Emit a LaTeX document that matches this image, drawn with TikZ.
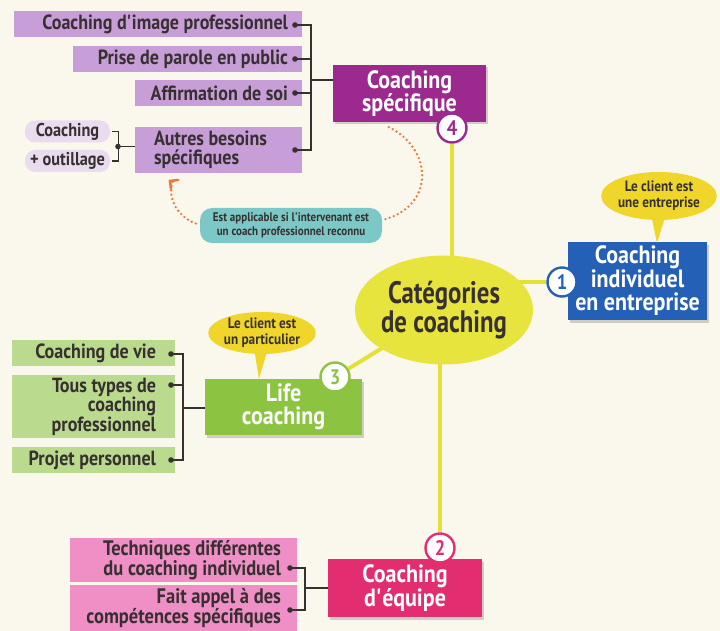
\documentclass[tikz,border=0pt]{standalone}
\usepackage{fontspec}
\setmainfont{PT Sans}[FakeStretch=0.88]
\newfontfamily\narrowfont{PT Sans}[FakeStretch=0.8]
\usetikzlibrary{shapes.geometric,shadows,arrows.meta,backgrounds,calc}

\definecolor{paper}{RGB}{250,247,236}
\definecolor{ink}{RGB}{55,48,48}
\definecolor{lpurple}{RGB}{200,158,216}
\definecolor{dpurple}{RGB}{156,42,142}
\definecolor{lavender}{RGB}{232,220,238}
\definecolor{dblue}{RGB}{36,96,182}
\definecolor{ell}{RGB}{232,228,62}
\definecolor{yline}{RGB}{228,224,56}
\definecolor{bub}{RGB}{240,214,42}
\definecolor{dgreen}{RGB}{140,196,66}
\definecolor{lgreen}{RGB}{186,218,142}
\definecolor{dpink}{RGB}{226,46,112}
\definecolor{lpink}{RGB}{240,142,198}
\definecolor{teal}{RGB}{124,200,198}
\definecolor{dotorange}{RGB}{236,122,62}

\pgfdeclarelayer{paperlayer}
\pgfsetlayers{paperlayer,background,main}

\newcommand{\fs}[2]{\fontsize{#1}{#2}\selectfont}
\newcommand{\apo}{\textquotesingle}

\tikzset{
  leaf/.style args={#1/#2/#3}{fill=#1, minimum width=#2, minimum height=#3,
    inner sep=0},
  lt/.style={anchor=east, align=right, inner sep=0, text=ink,
    font=\bfseries\fs{20.5}{19.5}},
  pill/.style={fill=lavender, rounded corners=10, inner sep=0,
    minimum width=85, minimum height=22, text=ink, font=\bfseries\fs{18.5}{18}},
  mainbox/.style={fill=#1, inner sep=0, align=center, text=white,
    font=\bfseries\fs{25}{23.5},
    drop shadow={opacity=0.35, shadow xshift=2pt, shadow yshift=-2.5pt}},
  num/.style={circle, draw=#1, fill=white, line width=2.4, text=#1,
    minimum size=29, inner sep=0, font=\bfseries\fs{21}{21}},
  bubble/.style={ellipse, fill=bub, inner sep=0, align=center, text=ink,
    font=\bfseries\fs{15}{16}},
  brk/.style={draw=ink, line width=1.4},
  ydot/.style={fill=ink},
  yconn/.style={draw=yline, line width=4},
  orangedots/.style={draw=dotorange, line width=2.6, line cap=round,
    dash pattern=on 0pt off 4.4pt},
}

\begin{document}
\begin{tikzpicture}[x=1pt,y=-1pt]
\useasboundingbox (0,0) rectangle (720,631);
\begin{pgfonlayer}{paperlayer}
  \fill[paper] (0,0) rectangle (720,631);
\end{pgfonlayer}

% ---- centre ----
\node[ellipse, fill=ell, minimum width=163, minimum height=109, inner sep=0,
      align=center, text=ink, font=\narrowfont\bfseries\fs{31}{29}] (cat) at (444,310)
      {Catégories\\de coaching};

% ---- 4: coaching spécifique ----
\node[mainbox=dpurple, minimum width=153, minimum height=57] (spec) at (409.5,93.5)
      {Coaching\\spécifique};
\node[num=dpurple] (c4) at (452,128) {4};

\node[leaf=lpurple/288/26] (p1) at (158,24) {};
\node[leaf=lpurple/229/26] (p2) at (187.5,59) {};
\node[leaf=lpurple/167/26] (p3) at (218.5,93) {};
\node[leaf=lpurple/167/46] (p4) at (218.5,150) {};
\node[lt] (p1t) at ($(p1.east)+(-14,0)$) {Coaching d\apo image professionnel};
\node[lt] (p2t) at ($(p2.east)+(-14,0)$) {Prise de parole en public};
\node[lt] (p3t) at ($(p3.east)+(-14,0)$) {Affirmation de soi};
\node[lt, anchor=west, align=left] (p4t) at ($(p4.west)+(19,0)$)
      {Autres besoins\\spécifiques};
\node[pill] (q1) at (67.5,131.5) {Coaching};
\node[pill] (q2) at (67.5,161) {+ outillage};

\coordinate (pd1) at (295,25);
\coordinate (pd2) at (295,59);
\coordinate (pd3) at (295,93);
\coordinate (pd4) at (295,150);
\coordinate (pj) at (311,80);
\draw[brk] (pd1) -- ++(16,0) |- (pd4);
\draw[brk] (pd2) -- ++(16,0);
\draw[brk] (pd3) -- ++(16,0);
\draw[brk] (pj) -- (pj -| spec.west);
\foreach \d in {pd1,pd2,pd3,pd4} \fill[ydot] (\d) circle (2.8);

\coordinate (qj) at (118,146.5);
\draw[brk] ($(q1.east)+(2,0)$) -- ++(6,0) |- ($(q2.east)+(2,0)$);
\draw[brk] (qj) -- (qj -| p4.west);
\fill[ydot] (qj) circle (2.8);

% ---- note with dotted loop ----
\node[fill=teal, rounded corners=12, minimum width=182, minimum height=35,
      inner sep=0, align=center, text=ink, font=\bfseries\fs{12.5}{14}]
      (note) at (291,225.5)
      {Est applicable si l\apo intervenant est\\un coach professionnel reconnu};
\coordinate (arcstart) at ($(spec.south west)+(56,5)$);
\coordinate (arcend) at (173,181);
\draw[orangedots] (arcstart) .. controls (432,148) and (436,205) .. ($(note.east)+(2,-6)$);
\draw[orangedots] ($(note.west)+(-4,-2)$) .. controls (180,218) and (166,200) .. (arcend);
\draw[draw=dotorange, line width=2.6, line cap=round]
      ($(arcend)+(-2,8)$) -- ++(-1,-8) -- ++(8,-1);

% ---- 1: coaching individuel en entreprise ----
\node[mainbox=dblue, minimum width=139, minimum height=78] (ind) at (637.5,281)
      {Coaching\\individuel\\en entreprise};
\node[num=dblue] (c1) at (562,282) {1};
\node[bubble, minimum width=97, minimum height=48] (b1) at (659,196)
      {Le client est\\une entreprise};
\coordinate (t1) at (657,243);
\fill[bub] ($(b1.south)+(-8,-6)$) -- (t1) -- ($(b1.south)+(7,-6)$) -- cycle;

% ---- 3: life coaching ----
\node[mainbox=dgreen, minimum width=157, minimum height=56] (life) at (283.5,407)
      {Life\\coaching};
\node[num=dgreen] (c3) at (335,377) {3};
\node[bubble, minimum width=100, minimum height=42] (b3) at (262,333)
      {Le client est\\un particulier};
\coordinate (t3) at (259,379);
\fill[bub] ($(b3.south)+(-8,-6)$) -- (t3) -- ($(b3.south)+(6,-6)$) -- cycle;

\node[leaf=lgreen/163/26] (g1) at (93.5,353) {};
\node[leaf=lgreen/163/63] (g2) at (93.5,406.5) {};
\node[leaf=lgreen/163/26] (g3) at (93.5,460) {};
\node[lt] (g1t) at ($(g1.east)+(-19,0)$) {Coaching de vie};
\node[lt] (g2t) at ($(g2.east)+(-19,0)$) {Tous types de\\coaching\\professionnel};
\node[lt] (g3t) at ($(g3.east)+(-19,0)$) {Projet personnel};
\coordinate (gd1) at (171,354);
\coordinate (gd2) at (171,385);
\coordinate (gd3) at (171,460);
\coordinate (gj) at (183,408);
\draw[brk] (gd1) -- ++(12,0) |- (gd3);
\draw[brk] (gd2) -- ++(12,0);
\draw[brk] (gj) -- (gj -| life.west);
\foreach \d in {gd1,gd2,gd3} \fill[ydot] (\d) circle (2.8);

% ---- 2: coaching d'équipe ----
\node[mainbox=dpink, minimum width=154, minimum height=58] (team) at (405,588)
      {Coaching\\d\apo équipe};
\node[num=dpink] (c2) at (440,548) {2};

\node[leaf=lpink/227/44] (k1) at (183.5,560) {};
\node[leaf=lpink/227/46] (k2) at (183.5,608) {};
\node[lt, font=\bfseries\fs{21}{20.5}] (k1t) at ($(k1.east)+(-16,0)$)
      {Techniques différentes\\du coaching individuel};
\node[lt, font=\bfseries\fs{21}{20.5}] (k2t) at ($(k2.east)+(-16,0)$)
      {Fait appel à des\\compétences spécifiques};
\coordinate (kd1) at (290,568);
\coordinate (kd2) at (290,610);
\coordinate (kj) at (305,588);
\draw[brk] (kd1) -- ++(15,0) |- (kd2);
\draw[brk] (kj) -- (kj -| team.west);
\foreach \d in {kd1,kd2} \fill[ydot] (\d) circle (2.8);

% ---- yellow spokes behind everything ----
\begin{pgfonlayer}{background}
  \draw[yconn] (c4) -- (c4 |- cat.center);
  \draw[yconn] (c1) -- (c1 -| cat.center);
  \draw[yconn] (c3) -- (cat.center);
  \draw[yconn] (c2) -- (c2 |- cat.center);
\end{pgfonlayer}
\end{tikzpicture}
\end{document}
